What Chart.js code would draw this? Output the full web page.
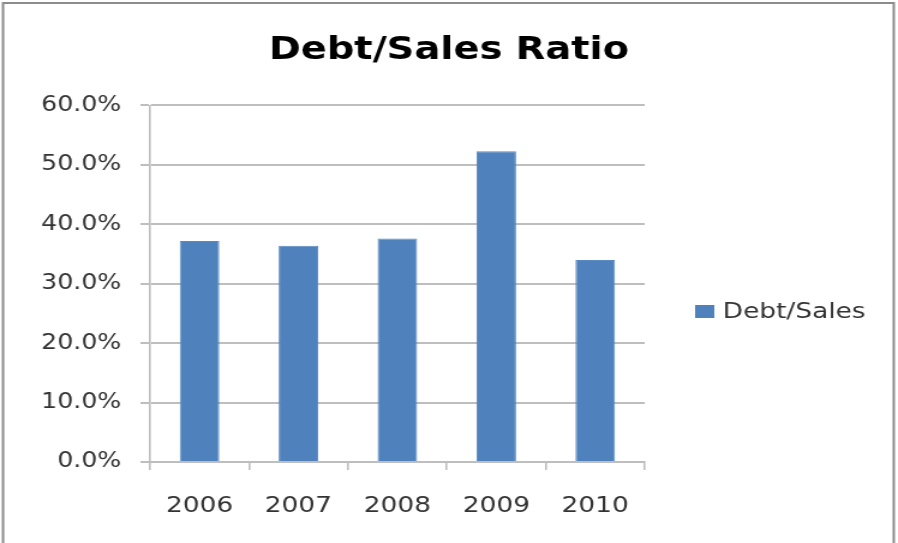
<!DOCTYPE html>
<html>
<head>
<meta charset="utf-8">
<script src="https://cdn.jsdelivr.net/npm/chart.js@4/dist/chart.umd.min.js"></script>
<style>
  html, body { margin: 0; padding: 0; background: #fff; overflow: hidden; }
  /* the original picture is stretched sideways: draw 748 wide, stretch to 898 */
  #wrap { width: 748px; height: 543px; transform: scaleX(1.2005); transform-origin: 0 0; }
</style>
</head>
<body>
<div id="wrap"><canvas id="chart" width="748" height="543"></canvas></div>
<script>
// values (percent)
const years = ["2006", "2007", "2008", "2009", "2010"];
const debtSales = [37.2, 36.4, 37.6, 52.3, 34.0];
const seriesName = "Debt/Sales";
const chartTitle = "Debt/Sales Ratio";

const barBlue = "#4F81BD";
const gridGray = "#BEBEBE";
const textGray = "#333333";
const FONT = "'DejaVu Sans', sans-serif";

// gray frame round the whole chart, like the Excel chart border
const framePlugin = {
  id: "frame",
  afterDraw(chart) {
    const ctx = chart.ctx;
    ctx.save();
    ctx.strokeStyle = "#8C8C8C";
    ctx.lineWidth = 2;
    ctx.strokeRect(2.5, 3, chart.width - 6, chart.height + 10);
    ctx.restore();
  }
};

// single legend entry to the right of the plot, Excel style
const sideLegend = {
  id: "sideLegend",
  afterDraw(chart) {
    const ctx = chart.ctx;
    const ds = chart.data.datasets[0];
    const x = chart.chartArea.right + 42;
    const y = 312;
    ctx.save();
    ctx.fillStyle = ds.backgroundColor;
    ctx.fillRect(x, y - 7, 16, 13);
    ctx.fillStyle = textGray;
    ctx.font = "22px " + FONT;
    ctx.textBaseline = "middle";
    ctx.fillText(ds.label, x + 23, y);
    ctx.restore();
  }
};

const ctx = document.getElementById("chart").getContext("2d");
new Chart(ctx, {
  type: "bar",
  data: {
    labels: years,
    datasets: [{
      label: seriesName,
      data: debtSales,
      backgroundColor: barBlue,
      borderColor: "#5B8AC3",
      borderWidth: 1,
      categoryPercentage: 1.0,
      barPercentage: 0.4
    }]
  },
  options: {
    responsive: false,
    animation: false,
    layout: { padding: 0 },
    plugins: {
      title: {
        display: true,
        text: chartTitle,
        color: "#000",
        font: { family: FONT, size: 32, weight: "bold" },
        padding: { top: 31, bottom: 36 }
      },
      legend: { display: false },
      tooltip: { enabled: false }
    },
    scales: {
      x: {
        grid: {
          offset: true,
          drawOnChartArea: false,
          color: gridGray,
          lineWidth: 1.6,
          tickLength: 8
        },
        border: { color: gridGray, width: 2 },
        ticks: {
          color: textGray,
          padding: 23,
          font: { family: FONT, size: 22 }
        },
        afterFit: s => { s.height = 81; }
      },
      y: {
        min: 0,
        max: 60,
        ticks: {
          stepSize: 10,
          color: textGray,
          padding: 16,
          font: { family: FONT, size: 21 },
          callback: v => v.toFixed(1) + "%"
        },
        grid: { color: gridGray, lineWidth: 2, tickLength: 8 },
        border: { color: gridGray, width: 1.6 },
        afterFit: s => { s.width = 125; }
      },
      // empty axis that only keeps room for the legend on the right
      legendRoom: {
        type: "linear",
        position: "right",
        display: true,
        ticks: { display: false },
        grid: { display: false },
        border: { display: false },
        afterFit: s => { s.width = 211; }
      }
    }
  },
  plugins: [framePlugin, sideLegend]
});
</script>
</body>
</html>
